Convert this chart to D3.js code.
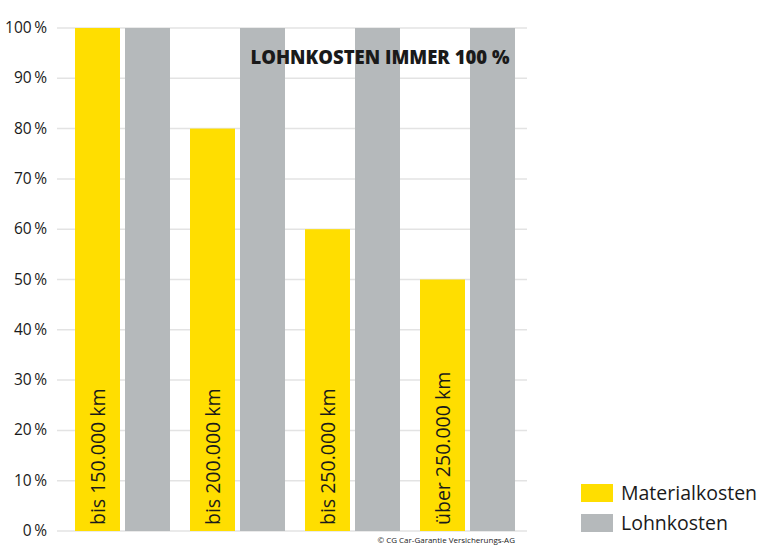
<!DOCTYPE html>
<html>
<head>
<meta charset="utf-8">
<script src="https://d3js.org/d3.v7.min.js"></script>
<style>
  body { margin: 0; background: #fff; }
  text { font-family: "Open Sans", sans-serif; fill: #1a1a1a; }
</style>
</head>
<body>
<div id="chart"></div>
<script>
// categories and values
var groups = ["bis 150.000 km", "bis 200.000 km", "bis 250.000 km", "über 250.000 km"];
var series = ["Materialkosten", "Lohnkosten"];
var material = [100, 80, 60, 50];
var lohn = [100, 100, 100, 100];
var yTicks = [0, 10, 20, 30, 40, 50, 60, 70, 80, 90, 100];
var colors = ["#ffde00", "#b5b9bb"];

var svg = d3.select("#chart").append("svg")
  .attr("width", 760)
  .attr("height", 545);

var y = d3.scaleLinear().domain([0, 100]).range([531, 28]);

var x0 = d3.scaleBand().domain(groups).range([75, 515])
  .paddingInner(20 / 115).paddingOuter(0);
var x1 = d3.scaleBand().domain(series).range([0, x0.bandwidth()])
  .paddingInner(5 / 50).paddingOuter(0);

// grid lines
svg.append("g").selectAll("line")
  .data(yTicks)
  .enter().append("line")
  .attr("x1", 57).attr("x2", 527)
  .attr("y1", function (d) { return y(d); })
  .attr("y2", function (d) { return y(d); })
  .attr("stroke", "#e3e3e3")
  .attr("stroke-width", 1.5);

// y labels
svg.append("g").selectAll("text")
  .data(yTicks)
  .enter().append("text")
  .attr("x", 47)
  .attr("y", function (d) { return y(d) + 5; })
  .attr("text-anchor", "end")
  .style("font-size", "15.5px")
  .text(function (d) { return d + "\u2009%"; });

// bars
var rows = groups.map(function (g, i) {
  return { group: g, values: [material[i], lohn[i]] };
});

var grp = svg.append("g").selectAll("g")
  .data(rows)
  .enter().append("g")
  .attr("transform", function (d) { return "translate(" + x0(d.group) + ",0)"; });

grp.selectAll("rect")
  .data(function (d) { return d.values.map(function (v, j) { return { s: series[j], v: v, j: j }; }); })
  .enter().append("rect")
  .attr("x", function (d) { return x1(d.s); })
  .attr("width", x1.bandwidth())
  .attr("y", function (d) { return y(d.v); })
  .attr("height", function (d) { return y(0) - y(d.v); })
  .attr("fill", function (d) { return colors[d.j]; });

// rotated labels inside yellow bars
grp.append("text")
  .attr("transform", function () {
    return "translate(" + (x1(series[0]) + x1.bandwidth() / 2 + 7) + "," + (y(0) - 6) + ") rotate(-90)";
  })
  .style("font-size", "19.5px")
  .text(function (d) { return d.group; });

// title
svg.append("text")
  .attr("x", 380)
  .attr("y", 64)
  .attr("text-anchor", "middle")
  .style("font-size", "18.5px")
  .style("font-weight", "800")
  .text("LOHNKOSTEN IMMER 100 %");

// legend
var legend = svg.append("g").selectAll("g")
  .data(series)
  .enter().append("g")
  .attr("transform", function (d, i) { return "translate(581," + (484 + i * 30) + ")"; });

legend.append("rect")
  .attr("width", 32).attr("height", 18)
  .attr("fill", function (d, i) { return colors[i]; });

legend.append("text")
  .attr("x", 40).attr("y", 16)
  .style("font-size", "19.5px")
  .text(function (d) { return d; });

// source
svg.append("text")
  .attr("x", 515).attr("y", 543)
  .attr("text-anchor", "end")
  .style("font-size", "8px")
  .text("© CG Car-Garantie Versicherungs-AG");
</script>
</body>
</html>
